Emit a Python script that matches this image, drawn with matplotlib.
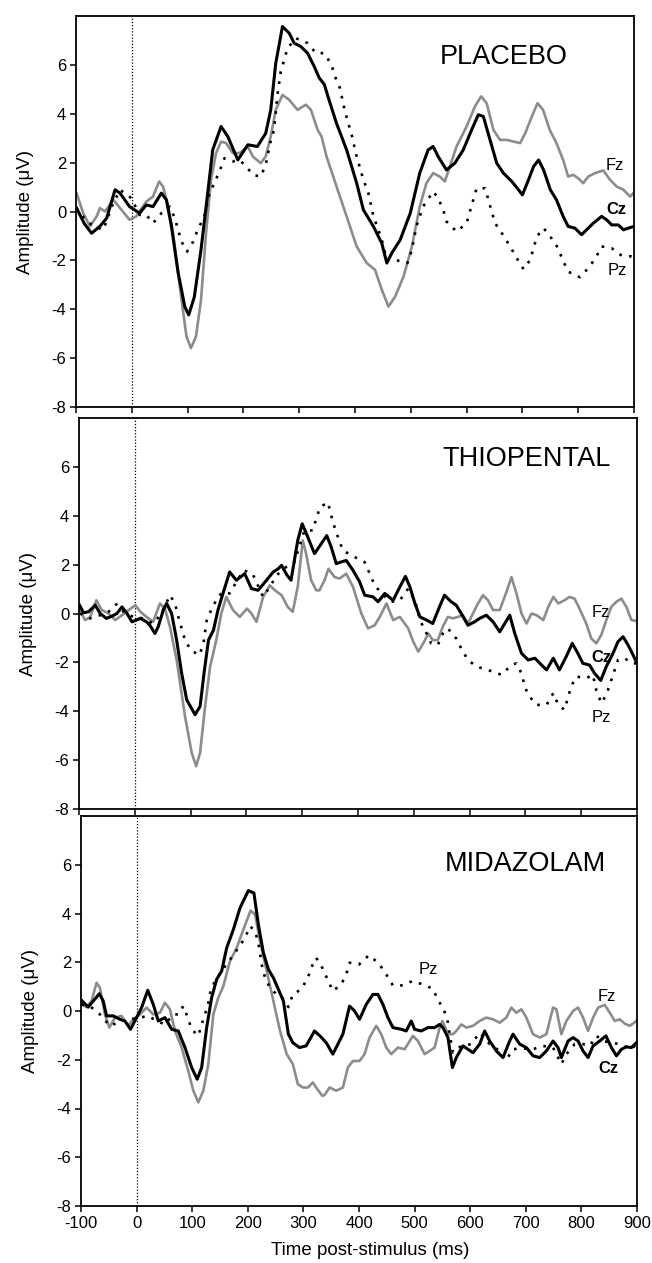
import numpy as np
import matplotlib
matplotlib.use("Agg")
import matplotlib.pyplot as plt

plt.rcParams['font.family'] = ['Liberation Sans', 'DejaVu Sans']
plt.rcParams['axes.unicode_minus'] = False

# ---------------- data (time ms, amplitude uV) ----------------
placebo_cz = [(-99,0.14),(-85,-0.5),(-72,-0.89),(-57,-0.6),(-45,-0.27),(-30,0.89),(-21,0.75),(-4,0.2),(14,-0.07),(26,0.27),(38,0.2),(53,0.75),(62,0.48),(71,-0.6),(83,-2.5),(95,-3.9),(102,-4.23),(112,-3.5),(124,-1.57),(136,0.75),(145,2.52),(160,3.48),(172,3.07),(190,2.11),(208,2.73),(225,2.66),(240,3.2),(249,4.16),(258,6.07),(270,7.57),(282,7.3),(291,6.89),(303,6.75),(315,6.48),(327,5.93),(336,5.46),(345,5.2),(353,4.6),(367,3.6),(385,2.52),(403,1.16),(415,0.07),(433,-0.61),(448,-1.3),(457,-2.11),(466,-1.7),(481,-1.16),(499,-0.07),(516,1.57),(531,2.52),(540,2.66),(549,2.25),(564,1.7),(579,1.98),(594,2.52),(609,3.34),(621,3.96),(630,3.89),(642,2.93),(654,1.98),(666,1.57),(681,1.23),(693,0.89),(700,0.68),(711,1.3),(720,1.84),(729,2.11),(738,1.7),(750,0.89),(761,0.48),(773,-0.2),(782,-0.61),(794,-0.68),(806,-0.95),(815,-0.75),(827,-0.48),(842,-0.2),(851,-0.34),(860,-0.55),(872,-0.55),(881,-0.75),(890,-0.68),(900,-0.61)]
placebo_fz = [(-99,0.75),(-87,-0.07),(-75,-0.61),(-63,-0.2),(-57,0.14),(-48,0),(-33,0.48),(-21,0.14),(-4,-0.34),(8,-0.2),(26,0.41),(38,0.61),(49,1.23),(56,1.02),(65,0.2),(74,-0.89),(86,-3.07),(98,-5.12),(106,-5.59),(115,-5.12),(124,-3.62),(133,-0.89),(142,1.3),(151,2.39),(160,2.86),(169,2.8),(181,2.39),(193,2.39),(208,2.66),(217,2.25),(231,1.98),(240,2.25),(249,3.07),(258,4.16),(270,4.77),(282,4.57),(297,4.16),(312,4.37),(321,4.16),(333,3.34),(340,3.07),(349,2.25),(367,1.02),(385,-0.2),(403,-1.43),(421,-2.11),(436,-2.39),(448,-3.2),(460,-3.89),(472,-3.48),(487,-2.66),(502,-1.43),(516,0.2),(528,1.16),(540,1.57),(552,1.43),(561,1.23),(570,1.84),(582,2.66),(600,3.48),(615,4.3),(626,4.71),(636,4.43),(648,3.34),(660,2.93),(672,2.93),(684,2.86),(696,2.8),(705,3.2),(717,3.89),(727,4.43),(737,4.16),(749,3.34),(761,2.8),(773,2.11),(782,1.43),(791,1.5),(800,1.36),(809,1.16),(818,1.43),(830,1.57),(845,1.68),(857,1.3),(869,1.02),(881,0.89),(893,0.61),(900,0.78)]
placebo_pz = [(-99,0.14),(-81,-0.41),(-66,-0.61),(-51,-0.75),(-36,0.2),(-21,0.89),(-1,0.55),(14,-0.14),(26,-0.14),(38,-0.48),(53,-0.07),(68,0.2),(77,-0.27),(83,-0.75),(89,-1.23),(99,-1.64),(110,-1.23),(118,-0.75),(130,-0.2),(139,0.75),(148,1.16),(157,1.64),(166,2.18),(181,2.05),(193,2.11),(205,1.84),(217,1.5),(231,1.43),(240,1.91),(248,2.8),(255,3.34),(261,4.77),(267,5.73),(273,6.2),(279,6.68),(294,7.09),(315,6.89),(330,6.48),(345,6.48),(358,6.0),(364,5.53),(373,5.05),(382,4.09),(394,3.14),(403,2.25),(415,1.3),(424,0.75),(433,-0.2),(442,-0.75),(448,-1.16),(457,-1.98),(472,-1.98),(494,-2.11),(502,-1.57),(510,-0.61),(522,0.2),(540,0.82),(549,0.55),(558,0.07),(564,-0.41),(582,-0.82),(600,-0.48),(606,0),(612,0.48),(618,0.95),(633,0.95),(639,0.48),(645,0),(651,-0.48),(665,-0.95),(678,-1.43),(690,-1.91),(702,-2.36),(714,-1.98),(720,-1.5),(726,-1.02),(738,-0.68),(752,-1.09),(764,-1.5),(772,-1.98),(782,-2.46),(803,-2.69),(818,-2.32),(831,-1.91),(842,-1.43),(860,-1.5),(878,-1.81),(898,-1.84)]

thiopental_cz = [(-99,0.34),(-92,0.03),(-83,0.07),(-71,0.34),(-62,0),(-51,-0.2),(-41,-0.11),(-32,0),(-23,0.27),(-14,0),(-5,-0.34),(10,-0.2),(21,-0.34),(27,-0.48),(36,-0.82),(42,-0.54),(51,0.14),(57,0.41),(66,0),(75,-1.09),(84,-2.45),(93,-3.53),(108,-4.14),(117,-3.8),(124,-2.45),(132,-1.09),(141,-0.68),(149,0.14),(158,0.82),(170,1.7),(182,1.36),(197,1.63),(209,1.02),(221,0.95),(236,1.36),(248,1.7),(257,1.83),(263,1.97),(273,1.56),(280,1.36),(292,2.99),(300,3.67),(310,3.13),(322,2.45),(334,2.85),(344,3.19),(352,2.72),(361,2.04),(370,2.11),(379,2.17),(391,1.77),(403,1.29),(412,0.75),(427,0.68),(436,0.48),(448,0.82),(463,0.54),(475,1.09),(485,1.52),(493,1.09),(502,0.41),(511,-0.14),(523,-0.27),(534,-0.41),(546,0.27),(555,0.75),(567,0.48),(576,0.34),(585,0),(597,-0.48),(609,-0.34),(618,-0.2),(630,-0.07),(642,-0.34),(654,-0.75),(663,-0.41),(672,-0.07),(681,-0.82),(693,-1.63),(705,-1.9),(717,-1.83),(729,-2.11),(738,-2.31),(750,-1.83),(761,-2.31),(773,-1.77),(784,-1.22),(794,-1.63),(803,-2.04),(815,-2.11),(824,-2.45),(835,-2.74),(845,-2.17),(857,-1.63),(866,-1.15),(875,-0.95),(884,-1.29),(893,-1.7),(900,-2.04)]
thiopental_fz = [(-99,0.14),(-89,-0.27),(-80,-0.14),(-69,0.54),(-59,0.14),(-47,0),(-35,-0.27),(-23,-0.07),(-11,0.14),(1,0.34),(10,0.07),(21,-0.14),(33,-0.34),(45,0.41),(54,0.2),(63,-0.54),(75,-1.9),(90,-4.21),(102,-5.7),(110,-6.25),(117,-5.7),(126,-3.8),(135,-2.17),(146,-1.09),(155,0),(164,0.68),(176,0.14),(188,-0.14),(201,0.2),(209,0),(218,-0.34),(230,0.68),(242,1.15),(251,0.95),(263,0.75),(274,0.27),(283,0.07),(292,1.09),(301,2.99),(307,2.45),(316,1.36),(325,0.95),(331,0.95),(340,1.36),(347,1.83),(358,1.49),(367,1.43),(379,1.63),(391,1.09),(406,0),(418,-0.61),(430,-0.48),(439,-0.14),(451,0.41),(463,-0.27),(475,-0.14),(490,-0.61),(499,-1.15),(508,-1.56),(517,-1.22),(526,-0.82),(534,-1.09),(543,-1.09),(552,-0.54),(561,-0.14),(570,-0.2),(579,-0.14),(588,-0.07),(597,-0.41),(606,0),(615,0.41),(624,0.75),(633,0.54),(642,0.14),(654,0.14),(666,0.88),(675,1.49),(684,0.82),(693,0),(702,-0.41),(711,0),(720,-0.07),(732,-0.27),(741,0.27),(750,0.68),(759,0.41),(770,0.54),(779,0.68),(788,0.61),(797,0.2),(809,-0.41),(818,-1.02),(827,-1.22),(836,-0.88),(845,-0.27),(854,0.27),(863,0.48),(872,0.61),(881,0.27),(890,-0.27),(900,-0.31)]
thiopental_pz = [(-98,0),(-80,-0.2),(-62,-0.07),(-47,0.07),(-33,0.38),(-17,0),(-2,-0.14),(15,-0.2),(33,-0.41),(48,0),(63,0.75),(72,0.41),(78,-0.14),(84,-0.61),(90,-1.09),(101,-1.52),(116,-1.7),(123,-1.22),(129,-0.27),(138,0.2),(149,0.68),(158,0.88),(170,0.82),(182,1.29),(195,1.77),(211,1.63),(230,0.68),(242,1.09),(254,1.56),(271,1.9),(286,2.1),(304,3.4),(319,3.4),(325,3.87),(332,4.35),(346,4.55),(352,4.0),(358,3.53),(364,3.13),(373,2.58),(394,2.31),(412,2.1),(421,1.63),(430,1.15),(445,0.75),(460,0.48),(475,0.54),(490,1.02),(502,0.54),(511,-0.27),(523,-0.82),(531,-1.22),(543,-1.29),(552,-0.82),(561,-0.61),(576,-1.02),(585,-1.43),(597,-1.9),(612,-2.17),(633,-2.31),(657,-2.51),(675,-2.11),(684,-2.04),(693,-2.45),(699,-2.99),(705,-3.33),(720,-3.74),(738,-3.74),(750,-3.26),(759,-3.74),(770,-3.94),(776,-3.46),(782,-2.99),(791,-2.58),(809,-2.65),(821,-2.51),(827,-3.13),(836,-3.67),(845,-3.33),(854,-2.72),(860,-2.31),(866,-1.9),(878,-1.83),(890,-2.04),(899,-2.04)]

midazolam_cz = [(-99,0.44),(-87,0.16),(-78,0.41),(-67,0.71),(-60,0.41),(-54,-0.2),(-42,-0.2),(-30,-0.34),(-21,-0.41),(-11,-0.75),(0,-0.27),(9,0.14),(20,0.85),(30,0.27),(39,-0.41),(51,-0.27),(63,-0.75),(75,-0.82),(87,-1.5),(99,-2.32),(109,-2.8),(117,-2.32),(126,-0.68),(135,0.55),(144,1.3),(153,1.64),(162,2.59),(174,3.34),(186,4.23),(201,4.94),(211,4.84),(219,3.55),(228,2.39),(237,1.71),(246,1.36),(255,0.89),(264,0.41),(273,-0.95),(281,-1.3),(293,-1.5),(305,-1.43),(320,-0.82),(331,-1.05),(341,-1.3),(353,-1.77),(362,-1.36),(371,-0.95),(383,0.2),(392,0),(401,-0.34),(413,0.27),(425,0.68),(434,0.68),(443,0.27),(452,-0.27),(461,-0.68),(476,-0.75),(485,-0.82),(494,-0.41),(500,-0.75),(512,-0.82),(524,-0.68),(536,-0.68),(545,-0.55),(551,-0.68),(560,-1.09),(568,-2.32),(575,-1.91),(587,-1.43),(596,-1.57),(605,-1.71),(617,-1.36),(626,-0.82),(635,-1.23),(647,-1.64),(659,-1.91),(671,-1.23),(677,-0.95),(689,-1.36),(701,-1.5),(713,-1.84),(725,-1.91),(737,-1.64),(749,-1.23),(758,-1.5),(764,-1.91),(776,-1.23),(785,-1.09),(794,-1.23),(803,-1.64),(812,-1.91),(821,-1.43),(833,-1.23),(844,-1.02),(854,-1.5),(863,-1.84),(872,-1.57),(881,-1.47),(890,-1.5),(899,-1.3)]
midazolam_fz = [(-99,0.27),(-90,0.16),(-81,0.41),(-72,1.16),(-66,0.95),(-57,-0.14),(-49,-0.68),(-39,-0.27),(-27,-0.2),(-15,-0.61),(-6,-0.34),(6,-0.14),(18,0.14),(30,-0.14),(42,-0.07),(51,0.34),(60,0.07),(69,-0.82),(81,-1.5),(93,-2.46),(102,-3.27),(111,-3.75),(120,-3.27),(129,-2.18),(138,-0.14),(147,0.55),(156,1.02),(168,2.05),(180,2.59),(192,3.34),(205,4.12),(213,3.96),(222,2.86),(234,1.64),(246,0.41),(258,-0.82),(270,-1.77),(281,-2.18),(290,-3.0),(299,-3.14),(308,-3.14),(317,-2.93),(323,-3.14),(334,-3.48),(338,-3.45),(347,-3.14),(359,-3.27),(371,-3.14),(380,-2.32),(389,-2.05),(401,-2.05),(410,-1.77),(419,-1.09),(431,-0.61),(440,-0.95),(449,-1.5),(458,-1.77),(470,-1.5),(482,-1.57),(497,-1.02),(506,-1.23),(518,-1.77),(527,-1.64),(536,-1.5),(545,-0.68),(550,-0.41),(560,-0.95),(569,-0.95),(575,-0.82),(584,-0.55),(593,-0.68),(605,-0.61),(617,-0.41),(629,-0.27),(641,-0.34),(653,-0.48),(665,-0.27),(674,0.14),(683,-0.07),(692,0.07),(701,-0.27),(713,-0.95),(725,-1.09),(737,-0.95),(749,0.14),(755,0.07),(764,-0.95),(773,-0.41),(785,0),(794,0.14),(803,-0.27),(812,-0.82),(821,-0.27),(830,0.14),(842,0.25),(851,-0.07),(860,-0.41),(869,-0.34),(878,-0.52),(887,-0.61),(899,-0.41)]
midazolam_pz = [(-99,0.27),(-84,0.2),(-66,-0.14),(-48,-0.61),(-27,-0.41),(-12,-0.34),(6,-0.27),(21,-0.2),(36,-0.41),(51,-0.55),(66,-0.14),(75,-0.14),(84,0.2),(92,-0.27),(99,-0.75),(111,-1.02),(117,-0.55),(123,-0.14),(129,0.34),(133,0.82),(141,1.23),(153,1.64),(168,2.11),(183,2.59),(195,3.0),(204,3.48),(213,3.27),(219,2.8),(225,1.91),(231,1.36),(240,0.95),(252,0.68),(262,0.55),(273,0.16),(281,0.68),(296,0.89),(308,1.36),(314,1.77),(323,2.18),(334,1.77),(344,1.27),(353,0.82),(368,1.09),(377,1.5),(383,1.98),(400,1.91),(418,2.29),(436,1.94),(449,1.5),(461,1.05),(479,1.05),(496,1.23),(515,1.09),(533,0.91),(542,0.44),(552,0.11),(560,-0.48),(563,-0.95),(569,-1.7),(584,-1.43),(602,-1.36),(617,-0.89),(635,-1.36),(653,-1.64),(665,-2.02),(676,-1.57),(692,-1.53),(713,-1.57),(730,-1.43),(749,-1.5),(764,-2.18),(773,-1.77),(788,-1.36),(803,-1.36),(815,-1.43),(827,-1.02),(839,-1.23),(854,-1.3),(869,-1.36),(890,-1.57),(899,-1.36)]

titles = ["PLACEBO", "THIOPENTAL", "MIDAZOLAM"]
x_ticks = [-100, 0, 100, 200, 300, 400, 500, 600, 700, 800, 900]
y_ticks = [-8, -6, -4, -2, 0, 2, 4, 6]

# ---------------- layout ----------------
W, H = 652, 1263
fig = plt.figure(figsize=(W/100, H/100), dpi=100)
fig.patch.set_facecolor('white')

# (left px, top px, right px, bottom px)
boxes = [(76, 16, 634, 407), (79, 418, 637, 809), (81, 816, 637, 1206)]
title_pos = [(552, 6.02), (552, 6.04), (555, 5.74)]
label_pos = [
    {'Fz': (850, 1.69), 'Cz': (851, -0.12), 'Pz': (852, -2.58)},
    {'Fz': (819, -0.15), 'Cz': (819, -1.99), 'Pz': (819, -4.44)},
    {'Fz': (829, 0.41), 'Cz': (830, -2.53), 'Pz': (507, 1.5)},
]
panels = [(placebo_fz, placebo_cz, placebo_pz),
          (thiopental_fz, thiopental_cz, thiopental_pz),
          (midazolam_fz, midazolam_cz, midazolam_pz)]

GRAY = '#8c8c8c'
for i, (box, (fz, cz, pz)) in enumerate(zip(boxes, panels)):
    l, t, r, b = box
    ax = fig.add_axes([l/W, 1 - b/H, (r-l)/W, (b-t)/H])
    ax.set_xlim(-100, 900)
    ax.set_ylim(-8, 8)
    ax.axvline(0, color='black', lw=0.9, ls=(0, (1, 1.5)), zorder=1)

    fz_t, fz_v = np.array(fz).T
    cz_t, cz_v = np.array(cz).T
    pz_t, pz_v = np.array(pz).T
    ax.plot(fz_t, fz_v, color=GRAY, lw=1.9, solid_joinstyle='round', zorder=2)
    ax.plot(pz_t, pz_v, color='black', lw=1.9, ls=(0, (1, 2.8)), zorder=3)
    ax.plot(cz_t, cz_v, color='black', lw=2.2, solid_joinstyle='round', zorder=4)

    ax.text(title_pos[i][0], title_pos[i][1], titles[i], fontsize=19.5,
            ha='left', va='baseline')
    for name, (x, y) in label_pos[i].items():
        ax.text(x, y, name, fontsize=12, ha='left', va='baseline',
                fontweight='bold' if name == 'Cz' else 'normal')

    ax.set_xticks(x_ticks)
    ax.set_yticks(y_ticks)
    ax.tick_params(direction='out', length=4, width=1.1, labelsize=12, pad=3)
    for s in ax.spines.values():
        s.set_linewidth(1.3)
    if i < 2:
        ax.tick_params(labelbottom=False)
    else:
        ax.set_xlabel('Time post-stimulus (ms)', fontsize=13.5)
        ax.xaxis.set_label_coords(0.52, -0.093)
    ax.set_ylabel('Amplitude (\u03bcV)', fontsize=13.5)
    ax.yaxis.set_label_coords(-0.075, 0.5)

fig.savefig('out.png', dpi=100, facecolor='white')
